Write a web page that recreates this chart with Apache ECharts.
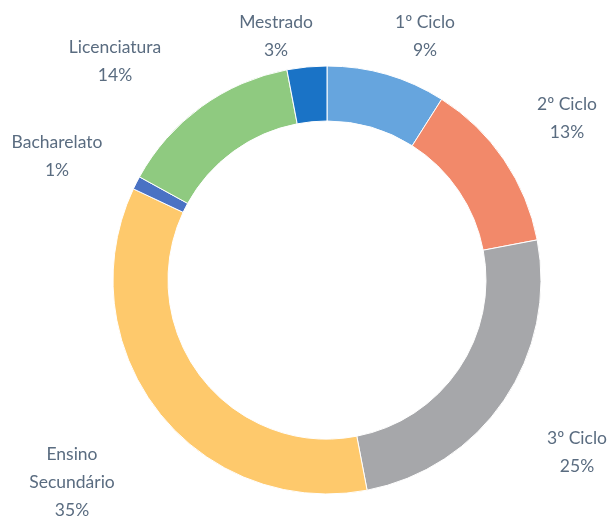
<!DOCTYPE html>
<html>
<head>
<meta charset="utf-8">
<script src="https://cdn.jsdelivr.net/npm/echarts@6/dist/echarts.min.js"></script>
<style>
html,body{margin:0;padding:0;background:#fff;}
#chart{width:608px;height:520px;}
</style>
</head>
<body>
<div id="chart"></div>
<script>
// Data
var categories = ['1º Ciclo', '2º Ciclo', '3º Ciclo', 'Ensino Secundário', 'Bacharelato', 'Licenciatura', 'Mestrado'];
var values = [9, 13, 25, 35, 1, 14, 3];

// Styles / layout (kept separate from data)
var colors = ['#66a5de', '#f2896a', '#a6a7aa', '#fec96c', '#4a72c4', '#8fca80', '#1a73c6'];
var labelPos = [[425, 36], [567, 118], [577, 452], [72, 482], [57, 156], [115, 61], [276, 36]];

var chart = echarts.init(document.getElementById('chart'), null, {renderer: 'canvas'});
chart.setOption({
  animation: false,
  backgroundColor: '#ffffff',
  series: [{
    type: 'pie',
    center: [327, 280],
    radius: [159, 214],
    startAngle: 90,
    clockwise: true,
    avoidLabelOverlap: false,
    itemStyle: {borderColor: '#ffffff', borderWidth: 1},
    label: {
      show: true,
      position: 'outside',
      fontFamily: 'Lato, "Open Sans", sans-serif',
      fontSize: 17.5,
      lineHeight: 28,
      color: '#5a6c80',
      align: 'center',
      formatter: function (p) {
        var n = p.name === 'Ensino Secundário' ? 'Ensino\nSecundário' : p.name;
        return n + '\n' + p.value + '%';
      }
    },
    labelLine: {show: false},
    labelLayout: function (p) {
      var pos = labelPos[p.dataIndex];
      return {x: pos[0], y: pos[1], align: 'center', verticalAlign: 'middle'};
    },
    data: categories.map(function (c, i) {
      return {name: c, value: values[i], itemStyle: {color: colors[i]}};
    })
  }]
});
</script>
</body>
</html>
